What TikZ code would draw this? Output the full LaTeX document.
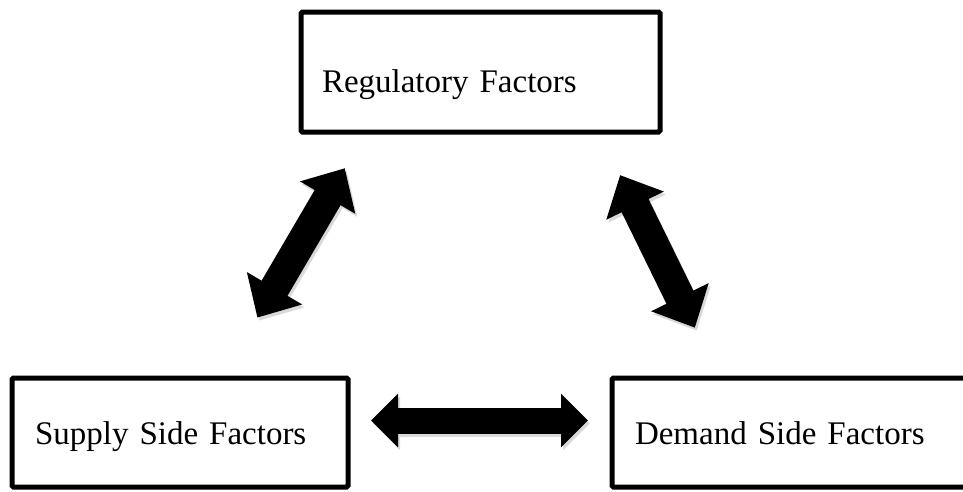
\documentclass[tikz,border=0pt]{standalone}
\usepackage{fontspec}
\setmainfont{Liberation Serif}
\usetikzlibrary{arrows.meta,calc}
\tikzset{
  factor/.style={
    rectangle,
    rounded corners=1.5pt,
    draw=black,
    line width=5pt,
    outer sep=0pt,
    anchor=north west,
    align=left,
    inner xsep=21pt,
    text depth=0pt,
    font=\fontsize{33}{40}\selectfont
  },
  bigarrow/.style={
    line width=30pt,
    {Triangle[length=34pt,width=62pt]}-{Triangle[length=34pt,width=62pt]},
    preaction={draw=black!15, line width=30pt,
      {Triangle[length=34pt,width=62pt]}-{Triangle[length=34pt,width=62pt]},
      transform canvas={shift={(2pt,-3pt)}}}
  },
  flatarrow/.style={
    line width=26pt,
    {Triangle[length=27pt,width=52pt]}-{Triangle[length=27pt,width=52pt]},
    preaction={draw=black!15, line width=26pt,
      {Triangle[length=27pt,width=52pt]}-{Triangle[length=27pt,width=52pt]},
      transform canvas={shift={(2pt,-3pt)}}}
  }
}
\begin{document}
\begin{tikzpicture}[x=1pt,y=-1pt]
\useasboundingbox (0,0) rectangle (963,491);
\node[factor, minimum width=359pt, minimum height=120pt, text width=317pt, text height=40pt] (reg) at (301,12) {Regulatory Factors};
\node[factor, minimum width=336pt, minimum height=109pt, inner xsep=23pt, text width=290pt, text height=24pt] (supply) at (12,378) {Supply Side Factors};
\node[factor, minimum width=388pt, minimum height=109pt, inner xsep=23pt, text width=342pt, text height=24pt] (demand) at (612,378) {Demand Side Factors};

\draw[bigarrow, shorten <=70pt, shorten >=42pt] ([xshift=210pt]supply.north west) -- ([xshift=65pt]reg.south west);
\draw[bigarrow, shorten <=48pt, shorten >=56pt] ([xshift=298pt]reg.south west) -- ([xshift=107.5pt]demand.north west);
\draw[flatarrow, shorten <=23pt, shorten >=24pt] ([yshift=12pt]supply.east) -- ([yshift=12pt]demand.west);
\end{tikzpicture}
\end{document}
